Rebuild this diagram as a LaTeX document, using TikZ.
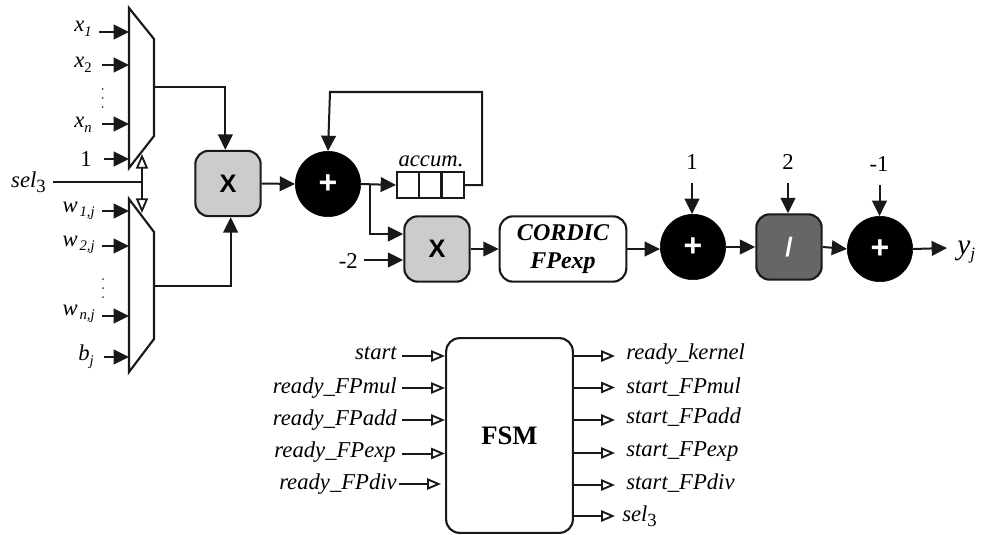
\documentclass[tikz,border=0pt]{standalone}
\usepackage{fontspec}
\setmainfont{Liberation Serif}
\newfontfamily\opfont{Liberation Sans}
\usetikzlibrary{arrows.meta}
\newcommand{\sbs}[1]{\raisebox{-3.5pt}{\fontsize{11}{12}\selectfont #1}}
\newcommand{\sbt}[1]{\raisebox{-4pt}{\fontsize{14}{15}\selectfont #1}}
\tikzset{
  x=0.75pt,y=-0.75pt,
  wire/.style={line width=1.5pt,draw=black!90},
  darrow/.style={wire,-{Triangle[length=11.5pt,width=11pt]}},
  oarrow/.style={wire,-{Triangle[open,length=10.5pt,width=8.5pt,line width=1.4pt]}},
  sarrow/.style={wire,-{Triangle[open,length=11pt,width=9pt,line width=1.4pt]}},
  block/.style={draw=black!90,line width=1.6pt,rounded corners=10pt,minimum width=49pt,minimum height=49pt,inner sep=0pt},
  mulbox/.style={block,fill=black!20,text=black,font=\opfont\bfseries\fontsize{19}{19}\selectfont},
  divbox/.style={block,fill=black!60,text=white,font=\opfont\bfseries\fontsize{20}{20}\selectfont},
  addnode/.style={circle,fill=black,draw=black,minimum size=49pt,inner sep=0pt,text=white,font=\opfont\bfseries\fontsize{24}{24}\selectfont},
  txt/.style={inner sep=0pt,font=\fontsize{17}{20}\selectfont},
  itx/.style={txt,font=\fontsize{17}{20}\selectfont\itshape},
  muxshape/.style={draw=black!90,line width=1.6pt,line join=miter,fill=white},
  ddot/.style={fill=black!75},
}
\begin{document}
\begin{tikzpicture}
\useasboundingbox (0,0) rectangle (981,535);
\fill[white] (0,0) rectangle (981,535);

% multiplexers
\coordinate (m1a) at (129,8);
\coordinate (m1b) at (154,39);
\coordinate (m1c) at (154,136);
\coordinate (m1d) at (129,168);
\coordinate (m2a) at (129,199);
\coordinate (m2b) at (154,232);
\coordinate (m2c) at (154,339);
\coordinate (m2d) at (129,372);
\draw[muxshape] (m1a)--(m1b)--(m1c)--(m1d)--cycle;
\draw[muxshape] (m2a)--(m2b)--(m2c)--(m2d)--cycle;

% blocks
\node[mulbox] (mulA) at (228,183.5) {X};
\node[addnode] (addA) at (328,184) {+};
\node[mulbox] (mulB) at (437,249) {X};
\node[block,minimum width=95pt,align=center,font=\fontsize{18}{21}\selectfont\itshape\bfseries] (cordic) at (563,249) {CORDIC\\FPexp};
\node[addnode] (addB) at (693,247) {+};
\node[divbox] (divA) at (789,247) {/};
\node[addnode] (addC) at (880,249) {+};
\node[block,minimum width=95pt,minimum height=146pt,font=\fontsize{20}{20}\selectfont\bfseries] (fsm) at (509.5,435.5) {FSM};

% accumulator
\node[draw=black!90,line width=1.5pt,minimum width=16.5pt,minimum height=19.5pt,inner sep=0pt] (acc1) at (408,185) {};
\node[draw=black!90,line width=1.5pt,minimum width=16.5pt,minimum height=19.5pt,inner sep=0pt] (acc2) at (430,185) {};
\node[draw=black!90,line width=1.5pt,minimum width=16.5pt,minimum height=19.5pt,inner sep=0pt] (acc3) at (452.5,185) {};
\node[itx] (acclab) at (431,161) {accum.};

% mux input labels
\node[txt,anchor=east] (lx1) at (92,29) {{\itshape x}\sbs{\itshape 1}};
\node[txt,anchor=east] (lx2) at (92,65) {{\itshape x}\sbs{2}};
\node[txt,anchor=east] (lxn) at (92,125) {{\itshape x}\sbs{\itshape n}};
\node[txt,anchor=east] (lone) at (92,159) {1};
\node[txt,anchor=east] (lsel) at (46,182) {{\itshape sel}\sbt{3}};
\node[txt,anchor=east] (lw1) at (95,211) {{\itshape w}\kern1.5pt\sbs{\itshape 1,j}};
\node[txt,anchor=east] (lw2) at (95,245) {{\itshape w}\kern1.5pt\sbs{\itshape 2,j}};
\node[txt,anchor=east] (lwn) at (95,314) {{\itshape w}\kern1.5pt\sbs{\itshape n,j}};
\node[txt,anchor=east] (lb) at (94,357) {{\itshape b}\sbs{\itshape j}};

\foreach \yy in {89,98,107} {\fill[ddot] (102.5,\yy) circle[radius=1];}
\foreach \yy in {279,288,297} {\fill[ddot] (103,\yy) circle[radius=1];}

% mux inputs
\coordinate (ix1) at (99,32);   \coordinate (ex1) at (129,32);
\coordinate (ix2) at (102,65);  \coordinate (ex2) at (129,65);
\coordinate (ixn) at (102,124); \coordinate (exn) at (129,124);
\coordinate (ione) at (104,159);\coordinate (eone) at (129,159);
\coordinate (iw1) at (102,211); \coordinate (ew1) at (129,211);
\coordinate (iw2) at (102,246); \coordinate (ew2) at (129,246);
\coordinate (iwn) at (102,316); \coordinate (ewn) at (129,316);
\coordinate (ib) at (104,357);  \coordinate (eb) at (129,357);
\foreach \p/\q in {ix1/ex1,ix2/ex2,ixn/exn,ione/eone,iw1/ew1,iw2/ew2,iwn/ewn,ib/eb} {\draw[darrow] (\p) -- (\q);}

% select line
\coordinate (sels) at (53,182);
\coordinate (selj) at (142,182);
\coordinate (selu) at (142,154);
\coordinate (seld) at (142,213);
\draw[wire] (sels) -- (selj);
\draw[sarrow] (selj) -- (selu);
\draw[sarrow] (selj) -- (seld);

% mux outputs
\coordinate (o1) at (154,87);
\coordinate (o2) at (154,286);
\draw[darrow] (o1) -| ([xshift=-2]mulA.north);
\draw[darrow] (o2) -| ([xshift=2]mulA.south);

% datapath
\draw[darrow] (mulA.east) -- (addA.west);
\coordinate (brk) at (370,184);
\draw[darrow] (addA.east) -- (acc1.west);
\coordinate (brk2) at (370,234);
\draw[darrow] (brk) -- (brk2) -- (mulB.west |- brk2);
\coordinate (fbk) at (482,185);
\draw[darrow] (acc3.east) -- (fbk) |- (330,92) -- (addA.north);
\node[txt,anchor=east] (lm2) at (358,261) {-2};
\coordinate (im2) at (364,260);
\draw[darrow] (im2) -- (mulB.west |- im2);
\draw[darrow] (mulB.east) -- (cordic.west);
\draw[darrow] (cordic.east) -- (addB.west |- cordic.east);
\draw[darrow] (addB.east) -- (divA.west);
\draw[darrow] (divA.east) -- (addC.west);
\node[txt] (lb1) at (692,162) {1};
\node[txt] (lb2) at (788,162) {2};
\node[txt] (lb3) at (879,164) {-1};
\coordinate (ib1) at (692,183);
\coordinate (ib2) at (788,183);
\coordinate (ib3) at (879.5,185);
\draw[darrow] (ib1) -- (ib1 |- addB.north);
\draw[darrow] (ib2) -- (ib2 |- divA.north);
\draw[darrow] (ib3) -- (ib3 |- addC.north);
\coordinate (oy) at (947,248);
\draw[darrow] (addC.east) -- (oy);
\node[anchor=west,inner sep=0pt,font=\fontsize{22}{24}\selectfont\itshape] (ly) at (957,252) {y\raisebox{-4pt}{\fontsize{13}{14}\selectfont j}};

% FSM inputs
\foreach \nm/\yy/\by/\xs/\xe/\tx/\tax in {a/356/359/402/445/start/397,b/388/393/402/445/ready\_FPmul/397,c/420/425/402/445/ready\_FPadd/397,d/453.5/457.5/402/445/ready\_FPexp/396,e/484/489/399/441/ready\_FPdiv/397} {
  \node[itx,anchor=base east] (fi\nm) at (\tax,\by) {\tx};
  \coordinate (fs\nm) at (\xs,\yy);
  \coordinate (fe\nm) at (\xe,\yy);
  \draw[oarrow] (fs\nm) -- (fe\nm);
}
% FSM outputs
\foreach \nm/\yy/\by/\tx/\tax in {a/356/359/ready\_kernel/626,b/387.5/393/start\_FPmul/626,c/420/423/start\_FPadd/626,d/453/456/start\_FPexp/626,e/485/489/start\_FPdiv/626,f/516/521/{sel\sbt{\upshape 3}}/622} {
  \node[itx,anchor=base west] (fo\nm) at (\tax,\by) {\tx};
  \coordinate (fq\nm) at (615,\yy);
  \draw[oarrow] (fsm.east |- fq\nm) -- (fq\nm);
}
\end{tikzpicture}
\end{document}
